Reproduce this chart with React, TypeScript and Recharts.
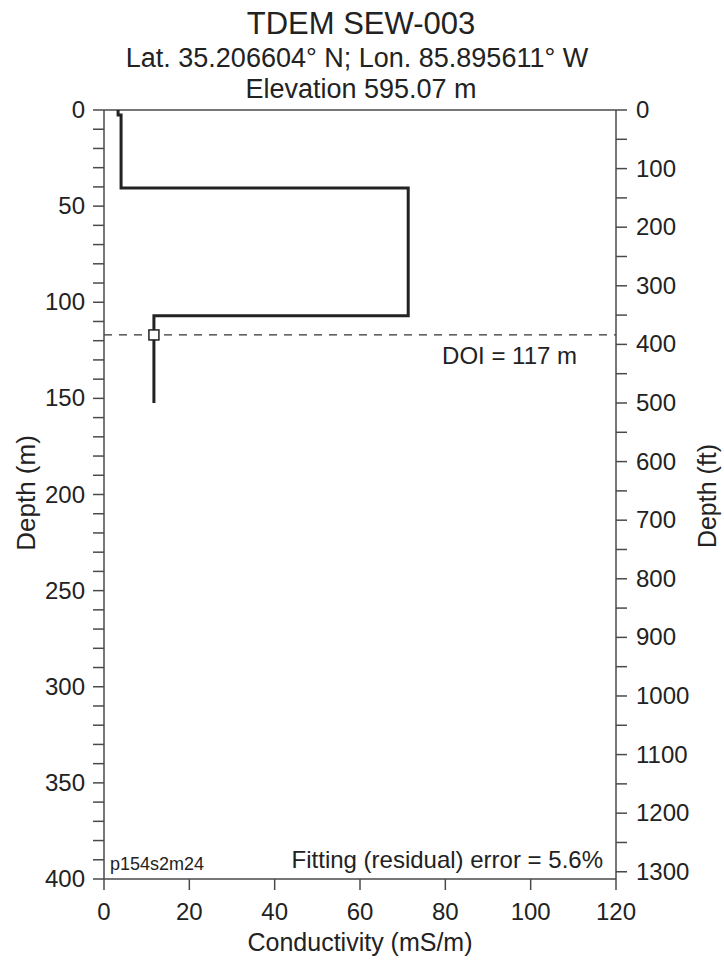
import React from "react";
import { ReferenceLine, Scatter, ScatterChart, XAxis, YAxis } from "recharts";

// layered-earth model: conductivity (mS/m) vs depth (m), drawn as a step profile
const profileCond = [3.3, 3.3, 4.0, 4.0, 71.3, 71.3, 11.7, 11.7];
const profileDepth = [0, 2.6, 2.6, 40.6, 40.6, 107, 107, 152.4];

const doiDepth = 117;
const doiCond = 11.7;

const condTicks = [0, 20, 40, 60, 80, 100, 120];
const depthTicks = Array.from({ length: 41 }, (_, i) => i * 10);
const depthLabels = [0, 50, 100, 150, 200, 250, 300, 350, 400];
const feetTicks = Array.from({ length: 27 }, (_, i) => i * 50);
const feetLabels = [0, 100, 200, 300, 400, 500, 600, 700, 800, 900, 1000, 1100, 1200, 1300];

const title = "TDEM SEW-003";
const subtitle = ["Lat. 35.206604° N; Lon. 85.895611° W", "Elevation 595.07 m"];
const modelId = "p154s2m24";
const fitText = "Fitting (residual) error = 5.6%";

const W = 724;
const H = 962;
const FONT = "'Liberation Sans', Arial, sans-serif";
const AXIS = "#4a4a4a";
const INK = "#222";
const M_TO_FT = 1 / 0.3048;

const profile = profileCond.map((c, i) => ({ c, d: profileDepth[i] }));
const doiPoint = [{ c: doiCond, d: doiDepth }];

const LeftTick = (props: any) => {
  const { x, y, payload } = props;
  const v = payload.value;
  return (
    <g>
      <line x1={x - 11} x2={x} y1={y} y2={y} stroke={AXIS} strokeWidth={1.5} />
      {depthLabels.includes(v) && (
        <text x={x - 19} y={y} dy={8} textAnchor="end" fontSize={24} fill={INK} fontFamily={FONT}>
          {v}
        </text>
      )}
    </g>
  );
};

const RightTick = (props: any) => {
  const { x, y, payload } = props;
  const v = payload.value;
  return (
    <g>
      <line x1={x} x2={x + 11} y1={y} y2={y} stroke={AXIS} strokeWidth={1.5} />
      {feetLabels.includes(v) && (
        <text x={x + 20} y={y} dy={8} textAnchor="start" fontSize={24} fill={INK} fontFamily={FONT}>
          {v}
        </text>
      )}
    </g>
  );
};

const BottomTick = (props: any) => {
  const { x, y, payload } = props;
  return (
    <g>
      <line x1={x} x2={x} y1={y} y2={y + 11} stroke={AXIS} strokeWidth={1.5} />
      <text x={x} y={y + 41} textAnchor="middle" fontSize={24} fill={INK} fontFamily={FONT}>
        {payload.value}
      </text>
    </g>
  );
};

const NoDot = () => <g />;

const SquareDot = (props: any) => {
  const { cx, cy } = props;
  return <rect x={cx - 5} y={cy - 5} width={10} height={10} fill="#fff" stroke={INK} strokeWidth={1.5} />;
};

export default function App() {
  return (
    <div style={{ position: "absolute", left: 0, top: 0, width: W, height: H, background: "#fff", fontFamily: FONT }}>
      <ScatterChart width={W} height={H} margin={{ top: 110, right: 0, bottom: 0, left: 0 }}>
        <XAxis
          dataKey="c"
          type="number"
          domain={[0, 120]}
          ticks={condTicks}
          interval={0}
          height={83}
          tickSize={0}
          tickMargin={0}
          tick={<BottomTick />}
          axisLine={{ stroke: AXIS, strokeWidth: 1.5 }}
        />
        <YAxis
          yAxisId="m"
          dataKey="d"
          type="number"
          domain={[0, 400]}
          reversed
          ticks={depthTicks}
          interval={0}
          width={104}
          tickSize={0}
          tickMargin={0}
          tick={<LeftTick />}
          axisLine={{ stroke: AXIS, strokeWidth: 1.5 }}
        />
        <YAxis
          yAxisId="ft"
          orientation="right"
          type="number"
          domain={[0, 400 * M_TO_FT]}
          allowDataOverflow
          reversed
          ticks={feetTicks}
          interval={0}
          width={108}
          tickSize={0}
          tickMargin={0}
          tick={<RightTick />}
          axisLine={{ stroke: AXIS, strokeWidth: 1.5 }}
        />
        <ReferenceLine yAxisId="m" y={0} stroke={AXIS} strokeWidth={1.5} />
        <ReferenceLine yAxisId="m" y={doiDepth} stroke="#333" strokeWidth={1.2} strokeDasharray="8 7" />
        <Scatter
          yAxisId="m"
          data={profile}
          line={{ stroke: INK, strokeWidth: 3 }}
          shape={<NoDot />}
          isAnimationActive={false}
        />
        <Scatter yAxisId="m" data={doiPoint} shape={<SquareDot />} isAnimationActive={false} />
      </ScatterChart>

      <svg width={W} height={H} style={{ position: "absolute", left: 0, top: 0, pointerEvents: "none" }}>
        <g fontFamily={FONT} fill={INK} textAnchor="middle">
          <text x={361} y={34} fontSize={31}>{title}</text>
          <text x={357} y={67} fontSize={27}>{subtitle[0]}</text>
          <text x={361} y={98} fontSize={27}>{subtitle[1]}</text>
          <text x={360} y={951} fontSize={25}>Conductivity (mS/m)</text>
          <text transform="translate(35 493) rotate(-90)" fontSize={26}>Depth (m)</text>
          <text transform="translate(716 496) rotate(-90)" fontSize={25}>Depth (ft)</text>
        </g>
        <g fontFamily={FONT} fill={INK}>
          <text x={577} y={364} fontSize={24} textAnchor="end">DOI = 117 m</text>
          <text x={110} y={870} fontSize={18} textAnchor="start">{modelId}</text>
          <text x={603} y={868} fontSize={24} textAnchor="end">{fitText}</text>
        </g>
      </svg>
    </div>
  );
}
